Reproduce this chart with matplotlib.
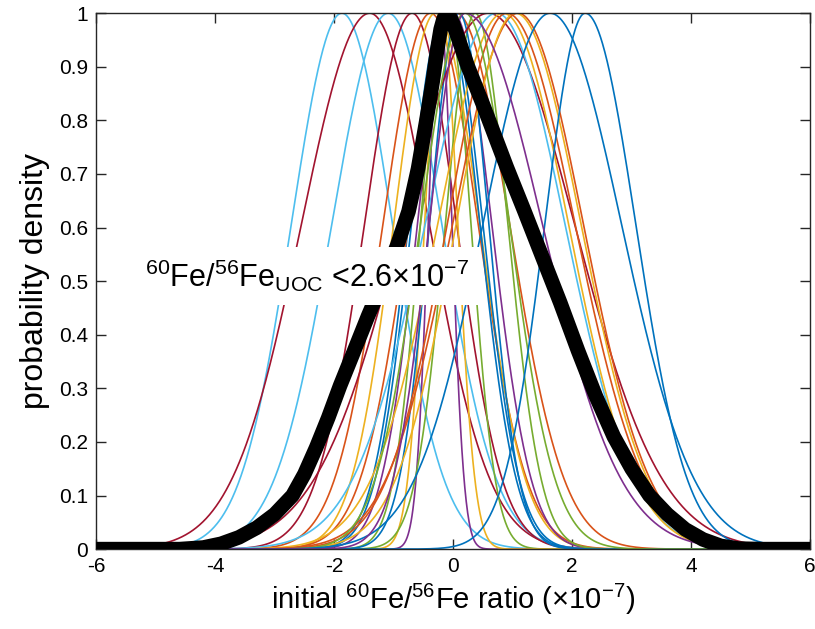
import numpy as np
import matplotlib.pyplot as plt

plt.rcParams['font.family'] = ['Liberation Sans', 'DejaVu Sans']
plt.rcParams['mathtext.fontset'] = 'custom'
plt.rcParams['mathtext.rm'] = 'Liberation Sans'
plt.rcParams['mathtext.it'] = 'Liberation Sans'
plt.rcParams['axes.unicode_minus'] = False

# MATLAB default line colours
B, O, Y, P = '#0072BD', '#D95319', '#EDB120', '#7E2F8E'
G, L, R = '#77AC30', '#4DBEEE', '#A2142F'

# individual meteorite estimates: peak position, left/right width (x1e-7)
peak_pos = [-1.87, -1.40, -1.09, -0.69, -0.38, -0.30, -0.15, -0.22, -0.10,
            -0.20, -0.10, 0.00, 0.05, 0.37, 0.10, 0.59, 0.73, 0.84, 1.09,
            1.05, 0.90, 0.20, 1.63, 2.22, 0.20]
width_left = [0.85, 1.15, 0.95, 0.80, 0.80, 0.70, 0.60, 0.20, 0.45,
              0.28, 0.60, 0.60, 0.80, 0.50, 0.50, 1.45, 1.20, 1.10, 1.10,
              1.00, 1.00, 0.75, 1.13, 0.68, 0.60]
width_right = [0.85, 1.00, 0.90, 0.75, 0.80, 0.75, 0.60, 0.20, 0.40,
               0.28, 0.60, 0.65, 0.90, 0.55, 0.50, 1.45, 1.15, 1.10, 1.10,
               1.10, 1.15, 0.75, 1.20, 0.85, 1.30]
line_colors = [L, R, L, R, O, Y, B, P, G,
               Y, B, P, O, G, B, R, L, Y, O,
               Y, O, G, B, B, P]

# combined distribution (black)
comb_x = [-6.0, -4.6, -4.2, -3.9, -3.6, -3.3, -3.0, -2.7, -2.5, -2.3,
          -2.1, -1.9, -1.7, -1.43, -1.2, -0.94, -0.75, -0.59, -0.45, -0.34,
          -0.27, -0.21, -0.16, -0.11, -0.06, 0.0, 0.08, 0.25, 0.5, 0.9, 1.2,
          1.5, 1.8, 2.1, 2.4, 2.7, 3.0, 3.3, 3.6, 3.9, 4.2,
          4.5, 4.8, 5.2, 6.0]
comb_y = [0.0, 0.0, 0.003, 0.01, 0.022, 0.04, 0.065, 0.1, 0.14, 0.19,
          0.245, 0.305, 0.36, 0.435, 0.495, 0.567, 0.63, 0.71, 0.8, 0.875,
          0.93, 0.97, 0.99, 0.998, 0.995, 0.98, 0.955, 0.9, 0.83, 0.713, 0.63,
          0.545, 0.46, 0.37, 0.285, 0.21, 0.15, 0.1, 0.065, 0.037, 0.018,
          0.006, 0.001, 0.0, 0.0]

fig = plt.figure(figsize=(8.15, 6.29), dpi=100)
ax = fig.add_axes([0.118, 0.127, 0.876, 0.852])

x = np.linspace(-6, 6, 1500)
for mu, sl, sr, c in zip(peak_pos, width_left, width_right, line_colors):
    s = np.where(x < mu, sl, sr)
    ax.plot(x, np.exp(-(x - mu) ** 2 / (2 * s ** 2)), color=c, lw=1.2)

ax.plot(comb_x, comb_y, color='black', lw=10.5, solid_joinstyle='round',
        solid_capstyle='butt', zorder=5)

ax.text(-5.18, 0.489, r'$^{60}$Fe/$^{56}$Fe$_{\mathrm{UOC}}$ <2.6×10$^{-7}$',
        fontsize=22, va='baseline', ha='left', zorder=10,
        bbox=dict(boxstyle='square,pad=0.35', facecolor='white', edgecolor='none'))

ax.set_xlim(-6, 6)
ax.set_ylim(0, 1)
ax.set_xticks(np.arange(-6, 7, 2))
ax.set_yticks(np.arange(0, 1.01, 0.1))
ax.set_yticklabels(['0', '0.1', '0.2', '0.3', '0.4', '0.5', '0.6', '0.7', '0.8', '0.9', '1'])
ax.tick_params(direction='in', length=7, width=1, top=True, right=True,
               labelsize=15, color='#262626', pad=6)
for lbl in ax.get_xticklabels() + ax.get_yticklabels():
    lbl.set_family(['Liberation Sans Narrow', 'Liberation Sans'])
for sp in ax.spines.values():
    sp.set_color('#262626')
    sp.set_linewidth(1)

ax.set_xlabel(r'initial $^{60}$Fe/$^{56}$Fe ratio (×10$^{-7}$)', fontsize=21, labelpad=4)
ax.set_ylabel('probability density', fontsize=23, labelpad=6)

fig.savefig('out.png', dpi=100)
